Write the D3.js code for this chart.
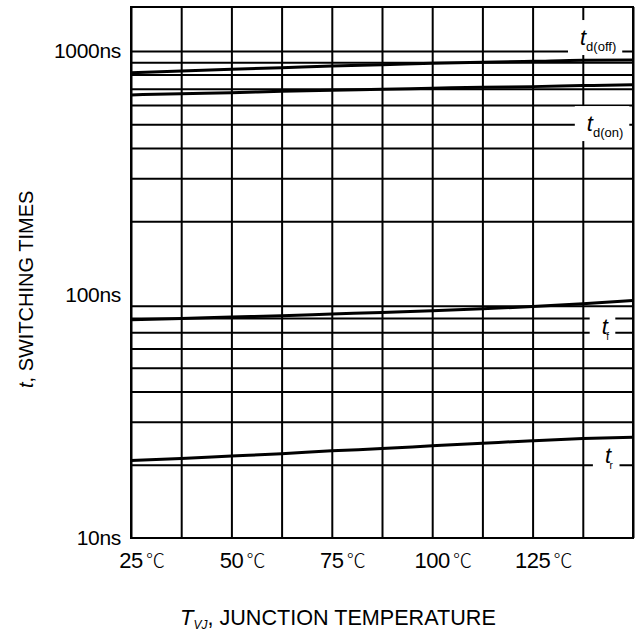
<!DOCTYPE html>
<html>
<head>
<meta charset="utf-8">
<script src="https://cdn.jsdelivr.net/npm/d3@7"></script>
<style>
  body { margin: 0; background: #fff; }
  svg text { font-family: "Liberation Sans", Arial, sans-serif; fill: #000; }
  .grid line { stroke: #000; stroke-width: 2; }
  .grid .domain { display: none; }
</style>
</head>
<body>
<div class="svg-container"></div>
<script>
var width = 636;
var height = 640;

// temperature points (deg C) along the x axis
var temps = [25, 37.5, 50, 62.5, 75, 87.5, 100, 112.5, 125, 137.5, 150];

// switching times in ns
var tdOff = [814, 828, 841, 854, 868, 878, 890, 899, 907, 916, 918];
var tdOn  = [660, 668, 674, 683, 690, 696, 703, 710, 714, 721, 727];
var tFall = [78.7, 79.7, 80.8, 81.8, 83.1, 84.4, 85.7, 87.3, 89.3, 91.6, 94.5];
var tRise = [20.8, 21.2, 21.7, 22.2, 22.8, 23.3, 23.9, 24.5, 25.1, 25.6, 25.9];

// ticks
var xTickValues = [25, 50, 75, 100, 125];
var yTickValues = [10, 100, 1000];
var yGridValues = [20, 30, 40, 50, 60, 70, 80, 90, 200, 300, 400, 500, 600, 700, 800, 900, 1000];

// curve labels: subscript, temperature and time of the label's baseline start
var labelSubs  = ["d(off)", "d(on)", "f", "r"];
var labelTemps = [136.8, 138.5, 142.2, 143.0];
var labelTimes = [1058, 469, 69, 20.4];

var padding = { top: 7, right: 3, bottom: 102, left: 131 };

var svg = d3.select(".svg-container")
            .append("svg")
            .attr("width", width)
            .attr("height", height);

var scaleX = d3.scaleLinear()
               .domain([25, 150])
               .range([padding.left, width - padding.right]);

var scaleY = d3.scaleLog()
               .domain([10, 1516])
               .range([height - padding.bottom, padding.top]);

var plotW = width - padding.left - padding.right;
var plotH = height - padding.top - padding.bottom;

// grid lines
svg.append("g")
   .attr("class", "grid")
   .attr("transform", "translate(0," + (height - padding.bottom) + ")")
   .call(d3.axisBottom(scaleX).tickValues(temps).tickSize(plotH).tickSizeOuter(0).tickFormat(""))
   .selectAll("line").attr("y2", -plotH);

svg.append("g")
   .attr("class", "grid")
   .attr("transform", "translate(" + padding.left + ",0)")
   .call(d3.axisLeft(scaleY).tickValues(yGridValues).tickSize(-plotW).tickSizeOuter(0).tickFormat(""));

// frame
svg.append("rect")
   .attr("x", scaleX(25))
   .attr("y", scaleY(1516))
   .attr("width", plotW)
   .attr("height", plotH)
   .attr("fill", "none")
   .attr("stroke", "#000")
   .attr("stroke-width", 2);

// curve labels with white boxes cutting the grid
labelSubs.forEach(function(sub, i) {
    var x0 = scaleX(labelTemps[i]);
    var y0 = scaleY(labelTimes[i]);
    var small = sub.length == 1;
    var g = svg.append("g");
    var box = g.append("rect").attr("fill", "#fff");
    var txt = g.append("text")
               .attr("x", x0)
               .attr("y", y0);
    txt.append("tspan")
       .style("font-style", "italic")
       .style("font-size", "22px")
       .text("t");
    txt.append("tspan")
       .attr("dx", small ? -1.5 : 0)
       .attr("dy", 6)
       .style("font-size", small ? "10px" : "13px")
       .text(sub);
    var bb = txt.node().getBBox();
    box.attr("x", x0 - 12)
       .attr("y", y0 - 25)
       .attr("width", bb.width + 18)
       .attr("height", 35);
});

// curves
var line = d3.line()
             .x(function(d) { return scaleX(d[0]); })
             .y(function(d) { return scaleY(d[1]); })
             .curve(d3.curveMonotoneX);

[tdOff, tdOn, tFall, tRise].forEach(function(series) {
    svg.append("path")
       .datum(temps.map(function(t, i) { return [t, series[i]]; }))
       .attr("fill", "none")
       .attr("stroke", "#000")
       .attr("stroke-width", 3)
       .attr("d", line);
});

// y tick labels
svg.append("g")
   .selectAll("text")
   .data(yTickValues)
   .enter()
   .append("text")
   .attr("x", padding.left - 10)
   .attr("y", function(d) { return scaleY(d); })
   .attr("dy", "0.35em")
   .attr("text-anchor", "end")
   .style("font-size", "21px")
   .style("letter-spacing", "-0.3px")
   .text(function(d) { return d + "ns"; });

// x tick labels: number centred on the grid line, degree sign after it
xTickValues.forEach(function(v) {
    var num = svg.append("text")
                 .attr("x", scaleX(v))
                 .attr("y", height - padding.bottom + 30)
                 .attr("text-anchor", "middle")
                 .style("font-size", "22px")
                 .style("letter-spacing", "-0.5px")
                 .text(v);
    var bb = num.node().getBBox();
    svg.append("text")
       .attr("x", bb.x + bb.width + 3)
       .attr("y", height - padding.bottom + 30)
       .style("font-family", "'Noto Sans CJK SC', sans-serif")
       .style("font-size", "19px")
       .style("font-weight", 300)
       .text("\u2103");
});

// axis titles
var yTitle = svg.append("text")
                .attr("transform", "translate(33," + scaleY(105) + ") rotate(-90)")
                .attr("text-anchor", "middle")
                .style("font-size", "20px");
yTitle.append("tspan").style("font-style", "italic").text("t");
yTitle.append("tspan").text(", SWITCHING TIMES");

var xTitle = svg.append("text")
                .attr("x", 180)
                .attr("y", 625)
                .style("font-size", "21.6px");
xTitle.append("tspan").style("font-style", "italic").style("font-size", "22px").text("T");
xTitle.append("tspan").attr("dy", 4).style("font-style", "italic").style("font-size", "12px").text("VJ");
xTitle.append("tspan").attr("dy", -4).text(", JUNCTION TEMPERATURE");
</script>
</body>
</html>
